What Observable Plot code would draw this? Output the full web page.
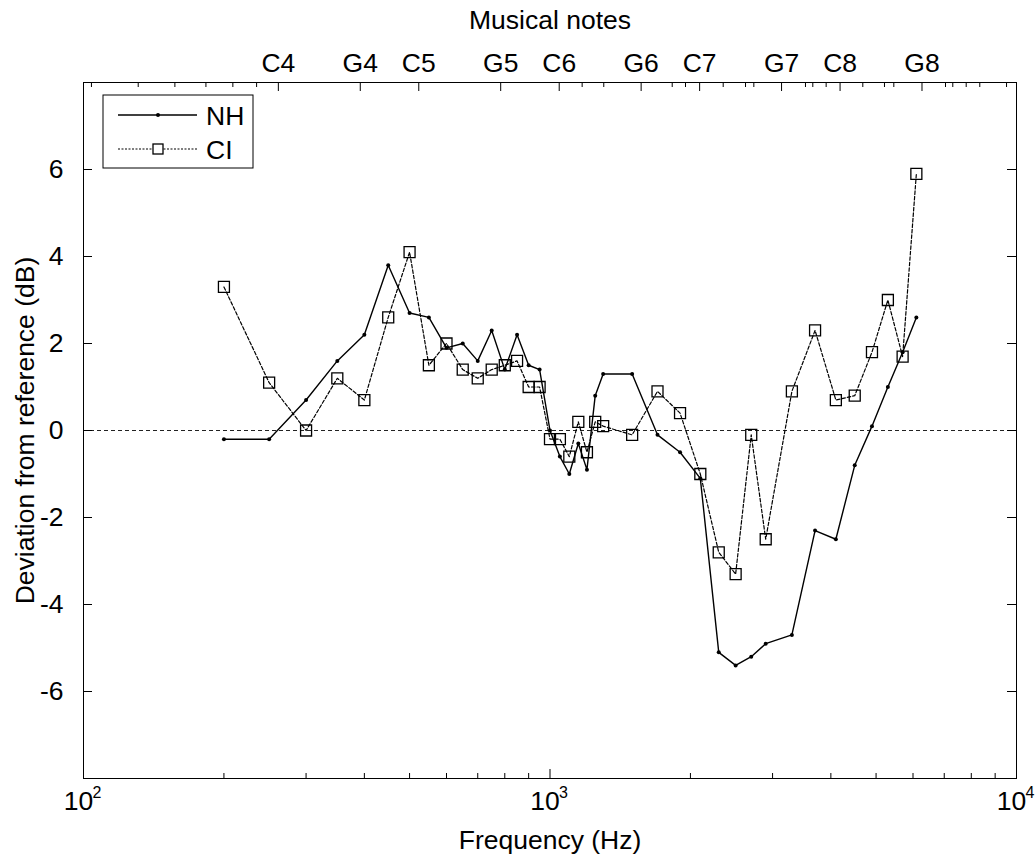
<!DOCTYPE html>
<html><head><meta charset="utf-8">
<script src="https://cdn.jsdelivr.net/npm/d3@7"></script>
<script src="https://cdn.jsdelivr.net/npm/@observablehq/plot@0.6"></script>
<style>body{margin:0;background:#fff} #chart svg{display:block}</style>
</head><body><div id="chart"></div>
<script>
// ---- data ----
const freqs = [200,250,300,350,400,450,500,550,600,650,700,750,800,850,900,950,1000,1050,1100,1150,1200,1250,1300,
  1500,1700,1900,2100,2300,2500,2700,2900,3300,3700,4100,4500,4900,5300,5700,6100];
const nhValues = [-0.2,-0.2,0.7,1.6,2.2,3.8,2.7,2.6,1.9,2.0,1.6,2.3,1.4,2.2,1.5,1.4,0.0,-0.6,-1.0,-0.3,-0.9,0.8,1.3,
  1.3,-0.1,-0.5,-1.1,-5.1,-5.4,-5.2,-4.9,-4.7,-2.3,-2.5,-0.8,0.1,1.0,1.8,2.6];
const ciValues = [3.3,1.1,0.0,1.2,0.7,2.6,4.1,1.5,2.0,1.4,1.2,1.4,1.5,1.6,1.0,1.0,-0.2,-0.2,-0.6,0.2,-0.5,0.2,0.1,
  -0.1,0.9,0.4,-1.0,-2.8,-3.3,-0.1,-2.5,0.9,2.3,0.7,0.8,1.8,3.0,1.7,5.9];
const noteNames = ["C4","G4","C5","G5","C6","G6","C7","G7","C8","G8"];
const noteFreqs = [261.63,392.00,523.25,783.99,1046.50,1567.98,2093.00,3135.96,4186.01,6271.93];
const topMinorTicks = [104,131,157,183,209,235,1172,1304,1828,1952,2351,2625,2735,3529,3659,3908,4683,5212,5458,7044,7302,7801,8343,9520];
const xMajorTicks = [100,1000,10000];
const xMinorTicks = [200,300,400,500,600,700,800,900,2000,3000,4000,5000,6000,7000,8000,9000];
const yTicks = [-6,-4,-2,0,2,4,6];
const seriesNames = ["NH","CI"];

// ---- layout ----
const W = 1036, H = 861, mL = 83, mR = 20, mT = 82, mB = 83;
const innerW = W - mL - mR, innerH = H - mT - mB;
const font = "'Liberation Sans', Arial, Helvetica, sans-serif";
const fs = 26.5;
const data = freqs.map((f, i) => ({f, nh: nhValues[i], ci: ciValues[i]}));

const chart = Plot.plot({
  width: W, height: H,
  marginLeft: mL, marginRight: mR, marginTop: mT, marginBottom: mB,
  x: {type: "log", domain: [100, 10000], axis: null},
  y: {domain: [-8, 8], axis: null},
  style: {fontFamily: font, fontSize: fs + "px", background: "white", color: "black", overflow: "visible"},
  marks: [
    Plot.ruleY([0], {stroke: "#222", strokeWidth: 1, strokeDasharray: "4,3"}),
    Plot.line(data, {x: "f", y: "nh", stroke: "black", strokeWidth: 1.4}),
    Plot.dot(data, {x: "f", y: "nh", r: 2, fill: "black"}),
    Plot.line(data, {x: "f", y: "ci", stroke: "black", strokeWidth: 1.2, strokeDasharray: "3.5,2"}),
    Plot.dot(data, {x: "f", y: "ci", symbol: "square", r: 6.2, stroke: "black", strokeWidth: 1.3, fill: "none"}),
    Plot.frame({stroke: "black", strokeWidth: 1}),
    // bottom ticks (inward)
    Plot.tickX(xMajorTicks, {x: d => d, insetTop: innerH - 9, stroke: "black"}),
    Plot.tickX(xMinorTicks, {x: d => d, insetTop: innerH - 5, stroke: "black"}),
    // top ticks (inward)
    Plot.tickX(noteFreqs, {x: d => d, insetBottom: innerH - 9, stroke: "black"}),
    Plot.tickX(topMinorTicks, {x: d => d, insetBottom: innerH - 5, stroke: "black"}),
    // y ticks, left and right
    Plot.tickY(yTicks, {y: d => d, insetRight: innerW - 9, stroke: "black"}),
    Plot.tickY(yTicks, {y: d => d, insetLeft: innerW - 9, stroke: "black"}),
    // bottom tick labels 10^n
    Plot.text(xMajorTicks, {x: d => d, text: () => "10", frameAnchor: "bottom", lineAnchor: "top", textAnchor: "middle", dx: -5, dy: 13, fontSize: fs}),
    Plot.text(xMajorTicks, {x: d => d, text: d => String(Math.round(Math.log10(d))), frameAnchor: "bottom", lineAnchor: "top", textAnchor: "start", dx: 9, dy: 8, fontSize: 16}),
    Plot.text(["Frequency (Hz)"], {text: d => d, frameAnchor: "bottom", lineAnchor: "top", textAnchor: "middle", dy: 52, fontSize: fs}),
    // top note labels
    Plot.text(noteFreqs, {x: d => d, text: (d, i) => noteNames[i], frameAnchor: "top", lineAnchor: "bottom", textAnchor: "middle", dy: -11, fontSize: fs}),
    Plot.text(["Musical notes"], {text: d => d, frameAnchor: "top", lineAnchor: "bottom", textAnchor: "middle", dy: -54, fontSize: fs}),
    // y tick labels
    Plot.text(yTicks, {y: d => d, text: d => String(d), frameAnchor: "left", textAnchor: "end", dx: -20, fontSize: fs}),
    Plot.text(["Deviation from reference (dB)"], {text: d => d, frameAnchor: "left", textAnchor: "middle", rotate: -90, dx: -58, fontSize: fs})
  ]
});

// ---- legend (decoration inside the axes, top-left) ----
const svg = d3.select(chart);
const lg = svg.append("g").attr("font-family", font).attr("font-size", fs).attr("text-anchor", "start");
lg.append("rect").attr("x", 103).attr("y", 95).attr("width", 150).attr("height", 73)
  .attr("fill", "white").attr("stroke", "black").attr("stroke-width", 1);
const rows = [115, 149];
seriesNames.forEach((name, i) => {
  const y = rows[i];
  lg.append("line").attr("x1", 118).attr("x2", 197).attr("y1", y).attr("y2", y)
    .attr("stroke", "black").attr("stroke-width", i === 0 ? 1.4 : 1.1)
    .attr("stroke-dasharray", i === 0 ? null : "2,1.5");
  if (i === 0) lg.append("circle").attr("cx", 158).attr("cy", y).attr("r", 2).attr("fill", "black");
  else lg.append("rect").attr("x", 153).attr("y", y - 5).attr("width", 10).attr("height", 10)
    .attr("fill", "white").attr("stroke", "black").attr("stroke-width", 1.3);
  lg.append("text").attr("x", 206).attr("y", y).attr("dy", "0.36em").attr("text-anchor", "start").text(name);
});

document.getElementById("chart").appendChild(chart);
</script>
</body></html>
